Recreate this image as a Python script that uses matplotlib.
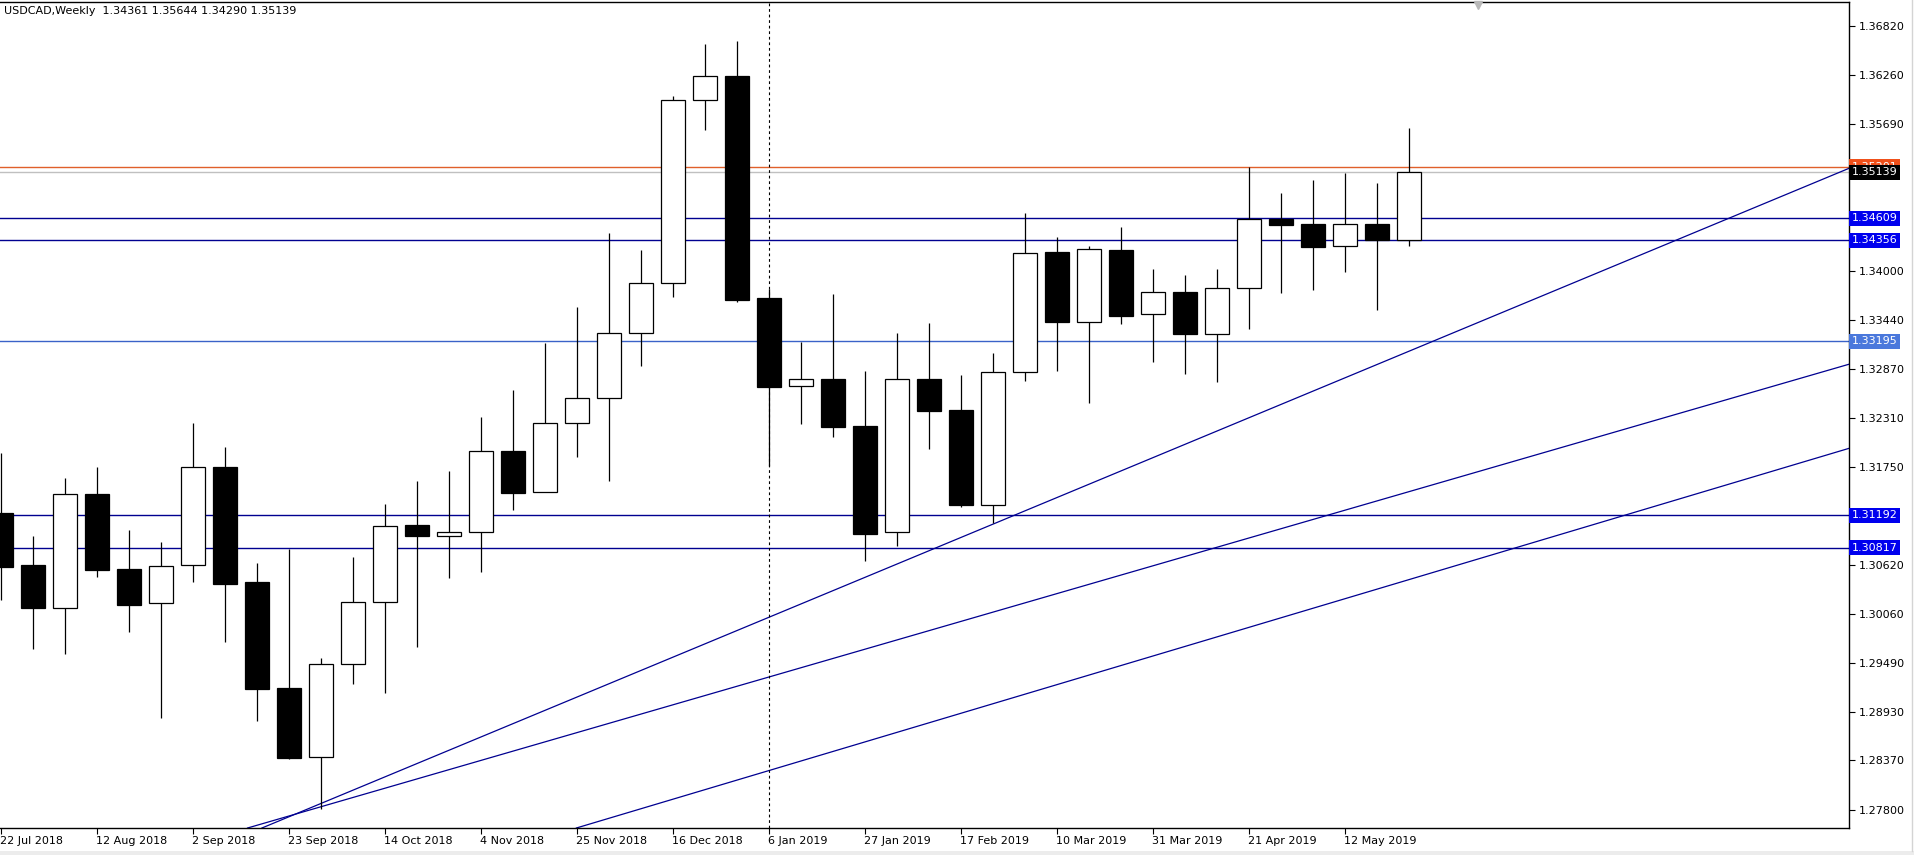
import matplotlib
matplotlib.use("Agg")
import matplotlib.pyplot as plt
from matplotlib.lines import Line2D
from matplotlib.patches import Rectangle

plt.rcParams['font.family'] = ['DejaVu Sans']
plt.rcParams['font.size'] = 8

# weekly USDCAD candles, 22 Jul 2018 .. 26 May 2019
opens = [1.31214, 1.30615, 1.30128, 1.31432, 1.30569, 1.30178, 1.30615, 1.31743, 1.30420, 1.29200,
         1.28406, 1.29476, 1.30190, 1.31079, 1.30956, 1.30997, 1.31929, 1.31453, 1.32258, 1.32538,
         1.33286, 1.33861, 1.35964, 1.36244, 1.33692, 1.32674, 1.32754, 1.32213, 1.30995, 1.32754,
         1.32403, 1.31306, 1.32835, 1.34220, 1.33412, 1.34239, 1.33501, 1.33756, 1.33280, 1.33802,
         1.34600, 1.34539, 1.34285, 1.34539, 1.34361]
highs = [1.31911, 1.30952, 1.31616, 1.31743, 1.31018, 1.30880, 1.32249, 1.31973, 1.30638, 1.30806,
         1.29545, 1.30707, 1.31317, 1.31584, 1.31699, 1.32320, 1.32632, 1.33174, 1.33586, 1.34440,
         1.34243, 1.36010, 1.36614, 1.36646, 1.33791, 1.33190, 1.33736, 1.32852, 1.33287, 1.33404,
         1.32803, 1.33057, 1.34667, 1.34392, 1.34284, 1.34506, 1.34025, 1.33955, 1.34021, 1.35194,
         1.34895, 1.35048, 1.35129, 1.35014, 1.35644]
lows = [1.30216, 1.29656, 1.29598, 1.30484, 1.29851, 1.28862, 1.30427, 1.29736, 1.28828, 1.28383,
        1.27808, 1.29246, 1.29143, 1.29679, 1.30473, 1.30542, 1.31255, 1.31453, 1.31856, 1.31584,
        1.32912, 1.33704, 1.35623, 1.33647, 1.31757, 1.32246, 1.32093, 1.30668, 1.30842, 1.31948,
        1.31286, 1.31104, 1.32738, 1.32855, 1.32488, 1.33396, 1.32949, 1.32820, 1.32728, 1.33337,
        1.33752, 1.33786, 1.33993, 1.33556, 1.34290]
closes = [1.30599, 1.30128, 1.31432, 1.30565, 1.30162, 1.30604, 1.31743, 1.30404, 1.29196, 1.28402,
          1.29476, 1.30190, 1.31064, 1.30956, 1.30993, 1.31926, 1.31448, 1.32258, 1.32538, 1.33286,
          1.33861, 1.35964, 1.36244, 1.33672, 1.32669, 1.32754, 1.32210, 1.30979, 1.32754, 1.32395,
          1.31314, 1.32835, 1.34204, 1.33409, 1.34252, 1.33489, 1.33755, 1.33280, 1.33802, 1.34600,
          1.34534, 1.34281, 1.34539, 1.34358, 1.35139]

date_labels = ["22 Jul 2018", "12 Aug 2018", "2 Sep 2018", "23 Sep 2018", "14 Oct 2018",
               "4 Nov 2018", "25 Nov 2018", "16 Dec 2018", "6 Jan 2019", "27 Jan 2019",
               "17 Feb 2019", "10 Mar 2019", "31 Mar 2019", "21 Apr 2019", "12 May 2019"]
price_ticks = [1.36820, 1.36260, 1.35690, 1.35130, 1.34560, 1.34000, 1.33440, 1.32870, 1.32310,
               1.31750, 1.31190, 1.30620, 1.30060, 1.29490, 1.28930, 1.28370, 1.27800]
hidden_ticks = [1.35130, 1.34560, 1.31190]   # covered by the level labels

# horizontal levels: (price, line colour, label colour)
levels = [(1.34609, '#000090', '#0000ee'), (1.34356, '#000090', '#0000ee'),
          (1.31192, '#000090', '#0000ee'), (1.30817, '#000090', '#0000ee'),
          (1.33195, '#3a62c8', '#4a78dc')]
upper_level = 1.35201
bid = 1.35139
# trend lines, two anchors each (bar index, price)
trend_lines = [((10, 1.27873), (44, 1.33076)),
               ((10, 1.27836), (44, 1.31461)),
               ((20, 1.27813), (44, 1.30449))]
separator_bar = 24

W, H = 1915, 855
fig = plt.figure(figsize=(W / 100, H / 100), dpi=100)
fig.patch.set_facecolor('white')
ax = fig.add_axes([0, 27 / H, 1849 / W, 826 / H])

n = len(opens)
xs = list(range(n))
ax.vlines(xs, lows, highs, color='black', lw=0.9, zorder=3)
for i in xs:
    o, c = opens[i], closes[i]
    up = c >= o
    ax.bar(i, max(abs(c - o), 0.00003), bottom=min(o, c), width=0.75,
           color='white' if up else 'black', edgecolor='black', linewidth=0.9, zorder=4)

for price, lc, bc in levels:
    ax.axhline(price, color=lc, lw=1.0, zorder=2)
ax.axhline(upper_level, color='#e0602a', lw=1.0, zorder=2)
ax.axhline(bid, color='#c0c0c0', lw=1.0, zorder=2)
for p1, p2 in trend_lines:
    ax.axline(p1, p2, color='#000090', lw=0.9, zorder=2)
ax.axvline(separator_bar, color='black', lw=0.8, ls=(0, (2.5, 2.5)), zorder=2)

ax.set_xlim(-0.5 / 32, 1848.5 / 32)
ax.set_ylim(1.36820 - 802 * 0.00011505, 1.36820 + 24 * 0.00011505)

ax.yaxis.tick_right()
ax.set_yticks(price_ticks)
ax.set_yticklabels(['' if v in hidden_ticks else '%.5f' % v for v in price_ticks])
ax.tick_params(axis='y', direction='out', length=4, width=0.8, pad=3, labelsize=8, colors='black')
ax.set_xticks(list(range(0, n, 3)))
ax.set_xticklabels(date_labels)
for lbl in ax.get_xticklabels():
    lbl.set_ha('left')
ax.tick_params(axis='x', direction='out', length=4, width=0.8, pad=2, labelsize=8)

for s in ['top', 'right', 'bottom']:
    ax.spines[s].set_color('black')
    ax.spines[s].set_linewidth(1.0)
ax.spines['left'].set_visible(False)

ytr = ax.get_yaxis_transform()
box = dict(boxstyle='square,pad=0.22', ec='none')
ax.text(1.0015, upper_level, '%.5f' % upper_level, transform=ytr, color='white', va='center',
        ha='left', bbox=dict(box, fc='#f0501a'), clip_on=False, zorder=10)
ax.text(1.0015, bid, '%.5f' % bid, transform=ytr, color='white', va='center', ha='left',
        bbox=dict(box, fc='black'), clip_on=False, zorder=11)
for price, lc, bc in levels:
    ax.text(1.0015, price, '%.5f' % price, transform=ytr, color='white', va='center', ha='left',
            bbox=dict(box, fc=bc), clip_on=False, zorder=10)

ax.text(0.0022, 0.989, 'USDCAD,Weekly  %.5f %.5f %.5f %.5f' % (opens[-1], highs[-1], lows[-1], closes[-1]),
        transform=ax.transAxes, ha='left', va='center', fontsize=8, color='black')
ax.plot([0.7994], [0.996], marker='v', color='#b8b8b8', markersize=6, transform=ax.transAxes,
        clip_on=False, zorder=10)

# window chrome on right and bottom edges
fig.add_artist(Line2D([1912.5 / W, 1912.5 / W], [4 / H, 1], color='#d4d4d4', lw=1.0))
fig.add_artist(Rectangle((0, 0), 1, 4 / H, transform=fig.transFigure, fc='#ececec', ec='none'))

fig.savefig('out.png', dpi=100)
